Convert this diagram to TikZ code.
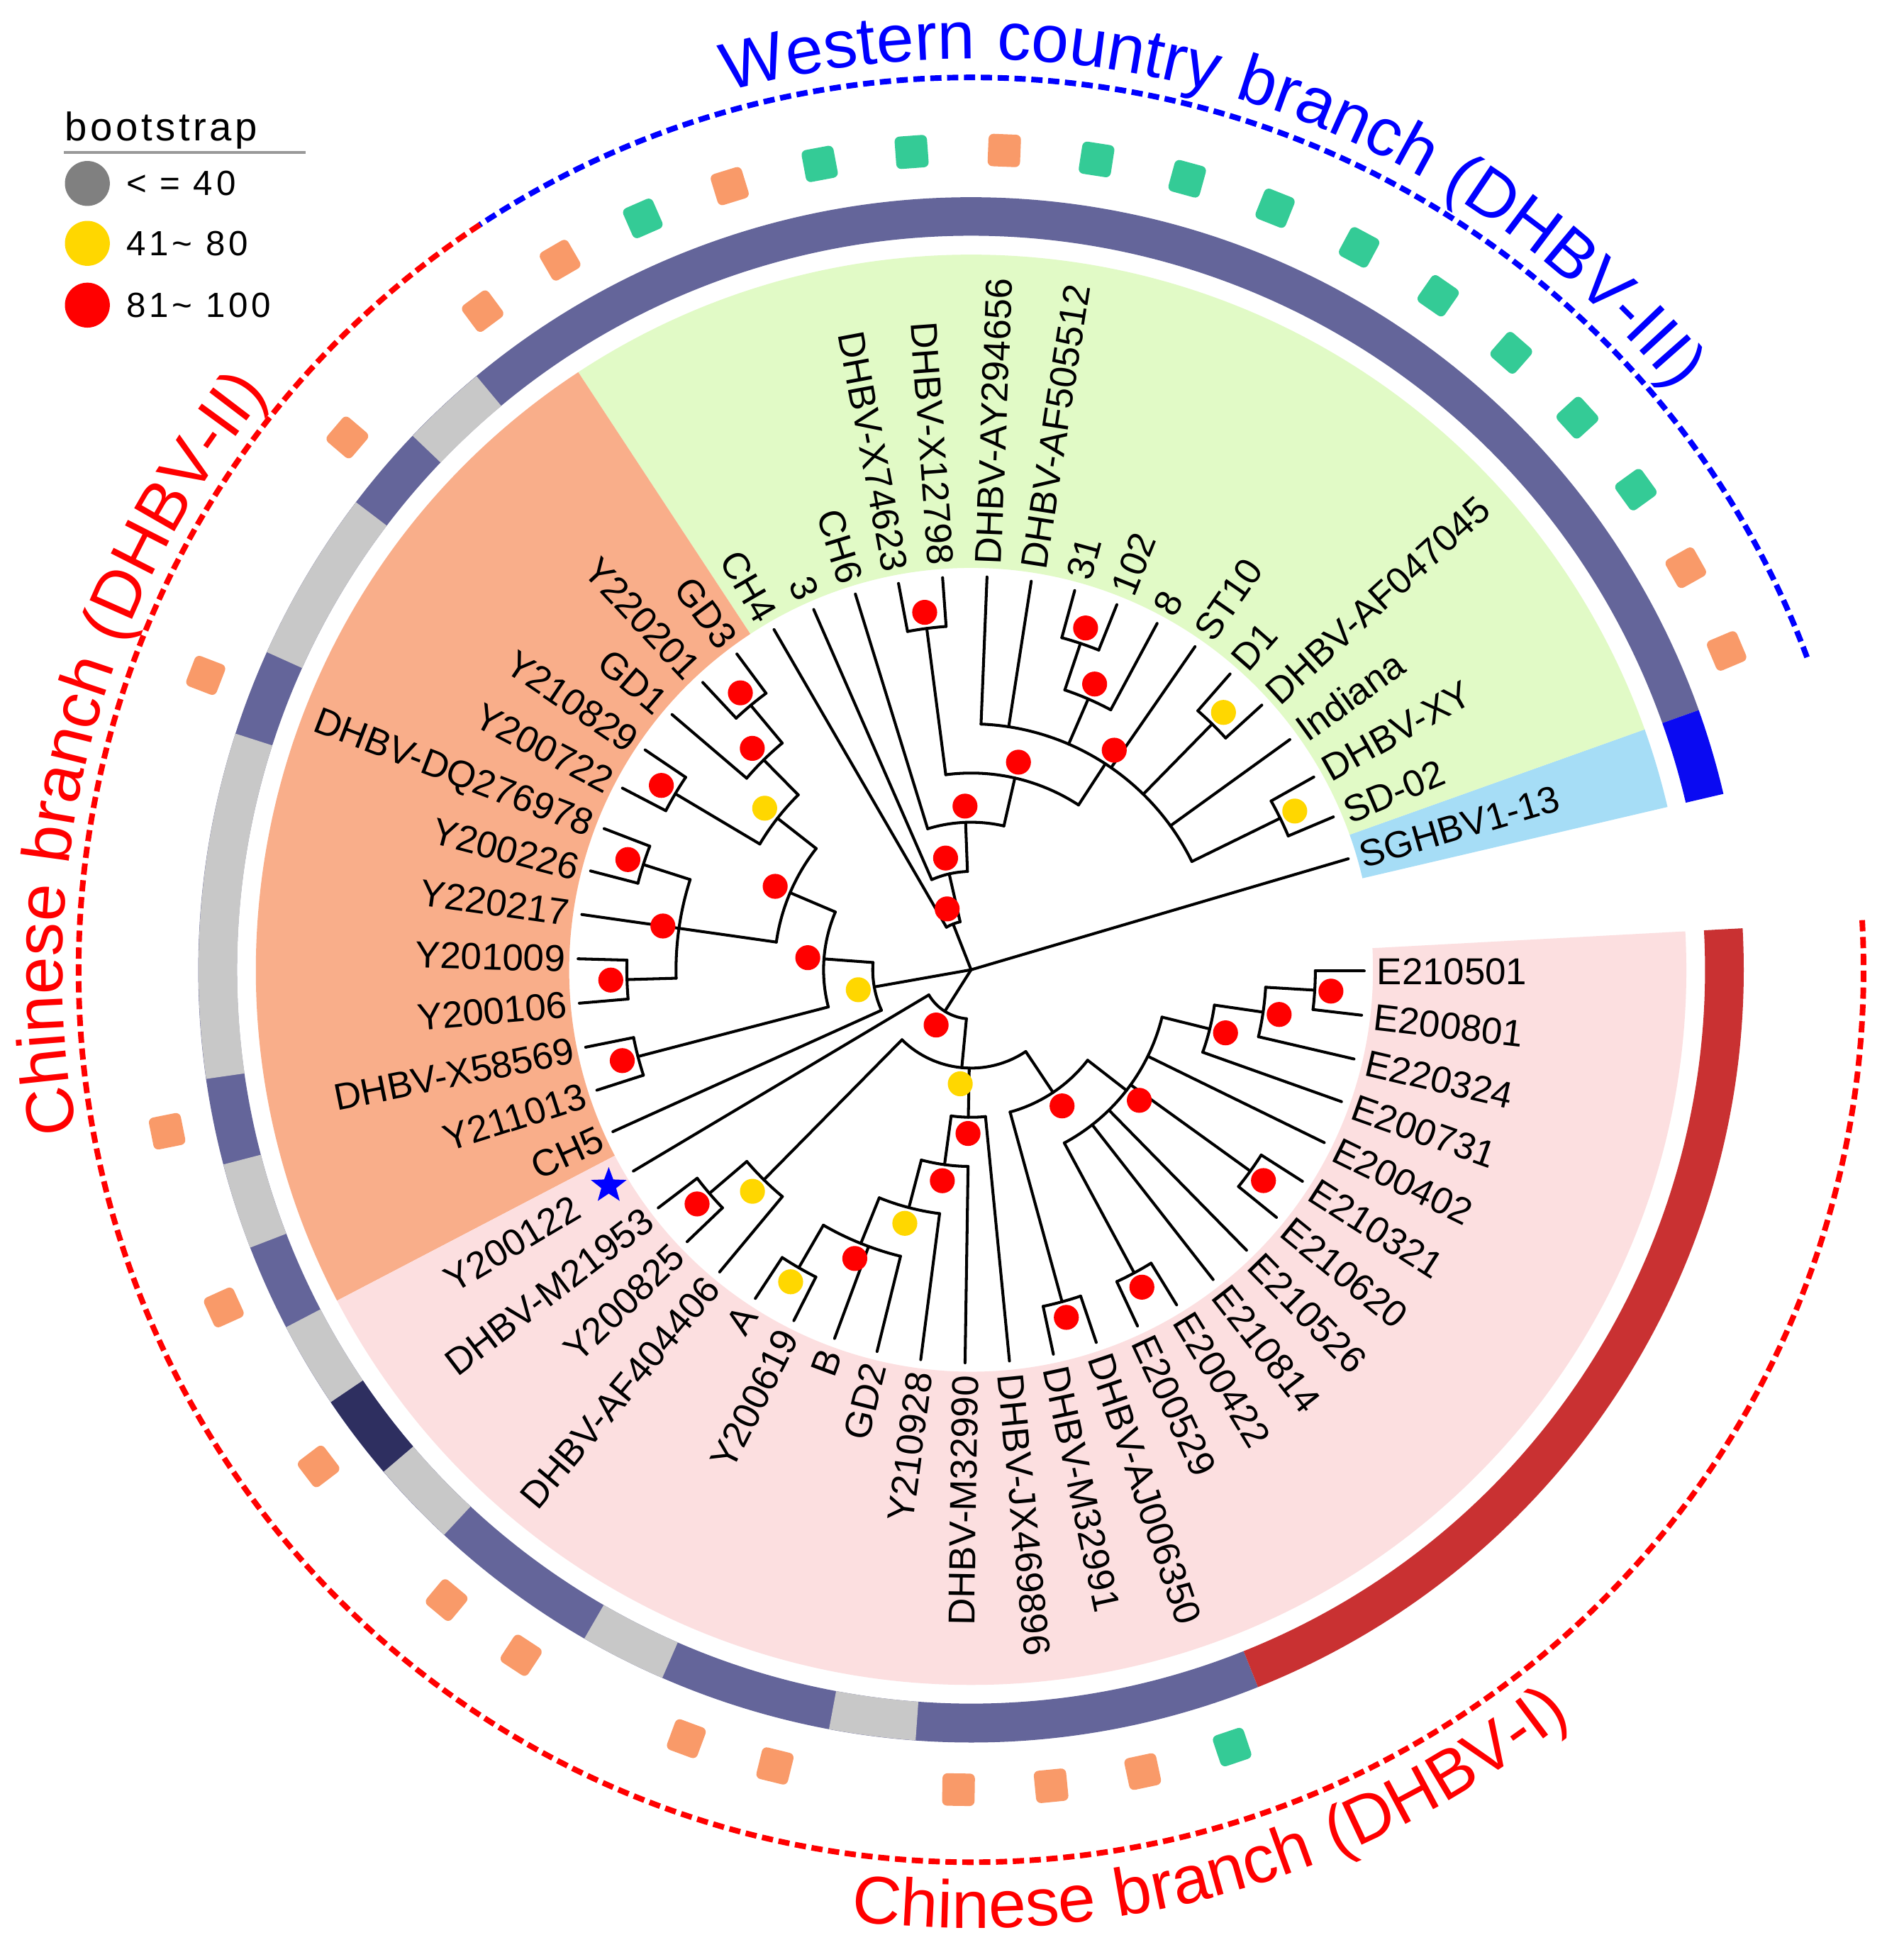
\documentclass[tikz,border=0pt]{standalone}
\usepackage{fontspec}
\setmainfont{Liberation Sans}
\newfontfamily\legtitlefont[LetterSpace=8]{Liberation Sans}
\newfontfamily\legnumfont[LetterSpace=10]{Liberation Sans}
\newfontfamily\cladetitlefont[LetterSpace=3]{Liberation Sans}
\usetikzlibrary{decorations.text,shapes.geometric}
\pgfdeclarelayer{fg}
\pgfsetlayers{main,fg}
\definecolor{fgreen}{HTML}{E1FAC6}
\definecolor{forange}{HTML}{F9AE8A}
\definecolor{fpink}{HTML}{FCDFE0}
\definecolor{fblue}{HTML}{A6DDF6}
\definecolor{rslate}{HTML}{64659A}
\definecolor{rgray}{HTML}{C8C8C8}
\definecolor{rnavy}{HTML}{2E2F60}
\definecolor{rred}{HTML}{C93132}
\definecolor{rblue}{HTML}{0A0AF2}
\definecolor{sqor}{HTML}{F99A69}
\definecolor{sqgr}{HTML}{34CB96}
\definecolor{bsred}{HTML}{FF0000}
\definecolor{bsyel}{HTML}{FFD700}
\definecolor{bsgray}{HTML}{808080}
\definecolor{dashblue}{HTML}{0000FF}
\definecolor{dashred}{HTML}{FF0000}

% annular sector: a1, a2, r1, r2, colour
\newcommand\annsec[5]{\fill[#5] (#1:#3) arc[start angle=#1,end angle=#2,radius=#3] -- (#2:#4) arc[start angle=#2,end angle=#1,radius=#4] -- cycle;}
% leaf: name, index, parent depth, label, label radius
\newcommand\tipleaf[5]{%
  \pgfmathsetmacro\lfang{16.4+6.48*#2}%
  \pgfmathsetmacro\lfpar{#3*39.4}%
  \draw[br] (\lfang:\lfpar) -- (\lfang:315);
  \pgfmathtruncatemacro\lfflip{(\lfang>90)&&(\lfang<270)}%
  \ifnum\lfflip=1
    \node[tiplab,anchor=east,rotate=\lfang+180] (L-#1) at (\lfang:#5) {#4};
  \else
    \node[tiplab,anchor=west,rotate=\lfang] (L-#1) at (\lfang:#5) {#4};
  \fi}
% internal node: name, angle, depth, arc from, arc to, parent depth, dot colour
\newcommand\innode[7]{%
  \pgfmathsetmacro\inR{#3*39.4}%
  \pgfmathsetmacro\inP{#6*39.4}%
  \pgfmathsetmacro\inD{#3*39.4+13}%
  \draw[br] (#2:\inP) -- (#2:\inR);
  \draw[br] (#4:\inR) arc[start angle=#4,end angle=#5,radius=\inR];
  \coordinate (n-#1) at (#2:\inR);
  \begin{pgfonlayer}{fg}\fill[#7] (#2:\inD) circle[radius=10];\end{pgfonlayer}}
% square marker: index, colour
\newcommand\sqmark[2]{%
  \pgfmathsetmacro\sqang{16.4+6.48*#1}%
  \node[sqbox,fill=#2,rotate=\sqang] (S#1) at (\sqang:657) {};}

\begin{document}
\begin{tikzpicture}[x=1pt,y=1pt,
  br/.style={line width=2.3pt,line cap=round,line join=round},
  tiplab/.style={font=\fontsize{30}{36}\selectfont,inner sep=0pt,text height=21.5pt,text depth=0pt},
  sqbox/.style={minimum size=26pt,inner sep=0pt,rounded corners=4pt},
  dashline/.style={line width=4.5pt,dash pattern=on 9pt off 4.5pt}]
\useasboundingbox (-778,-791) rectangle (747,777);
\fill[white] (-778,-791) rectangle (747,777);

% clade backgrounds
\annsec{13.16}{19.64}{322}{573}{fblue}
\annsec{19.64}{123.32}{322}{573}{fgreen}
\annsec{123.32}{207.56}{322}{573}{forange}
\annsec{207.56}{363.08}{322}{573}{fpink}

% outer ring
\annsec{19.64}{291.80}{588}{619}{rslate}
\annsec{13.16}{19.64}{588}{619}{rblue}
\annsec{291.80}{363.08}{588}{619}{rred}
\annsec{129.80}{136.28}{588}{619}{rgray}
\annsec{142.76}{155.72}{588}{619}{rgray}
\annsec{162.20}{188.12}{588}{619}{rgray}
\annsec{194.60}{201.08}{588}{619}{rgray}
\annsec{207.56}{214.04}{588}{619}{rgray}
\annsec{214.04}{220.52}{588}{619}{rnavy}
\annsec{220.52}{227.00}{588}{619}{rgray}
\annsec{239.96}{246.44}{588}{619}{rgray}
\annsec{259.40}{265.88}{588}{619}{rgray}

% square markers
\sqmark{1}{sqor}\sqmark{2}{sqor}\sqmark{3}{sqgr}\sqmark{4}{sqgr}\sqmark{5}{sqgr}
\sqmark{6}{sqgr}\sqmark{7}{sqgr}\sqmark{8}{sqgr}\sqmark{9}{sqgr}\sqmark{10}{sqgr}
\sqmark{11}{sqor}\sqmark{12}{sqgr}\sqmark{13}{sqgr}\sqmark{14}{sqor}\sqmark{15}{sqgr}
\sqmark{16}{sqor}\sqmark{17}{sqor}\sqmark{19}{sqor}\sqmark{22}{sqor}\sqmark{27}{sqor}
\sqmark{29}{sqor}\sqmark{31}{sqor}\sqmark{33}{sqor}\sqmark{34}{sqor}\sqmark{36}{sqor}
\sqmark{37}{sqor}\sqmark{39}{sqor}\sqmark{40}{sqor}\sqmark{41}{sqor}\sqmark{42}{sqgr}

% branch arcs
\draw[dashline,dashblue] (20.5:715) arc[start angle=20.5,end angle=123.4,radius=715];
\draw[dashline,dashred] (123.4:715) arc[start angle=123.4,end angle=363.2,radius=715];

% branch titles
\path[decorate,decoration={text along path,text color=dashblue,
  text={|\cladetitlefont\fontsize{54}{60}\selectfont|Western country branch (DHBV-III)}}]
  (105.5:730) arc[start angle=105.5,end angle=10,radius=730];
\path[decorate,decoration={text along path,text color=dashred,
  text={|\cladetitlefont\fontsize{54}{60}\selectfont|Chinese branch (DHBV-II)}}]
  (190.3:728) arc[start angle=190.3,end angle=115,radius=728];
\path[decorate,decoration={text along path,text color=dashred,
  text={|\cladetitlefont\fontsize{54}{60}\selectfont|Chinese branch (DHBV-I)}}]
  (262.8:768) arc[start angle=262.8,end angle=335,radius=768];

% legend
\node[anchor=base west,inner sep=0pt,font=\legtitlefont\fontsize{32}{38}\selectfont] (lgt) at (-726,664) {bootstrap};
\draw[color=black!40,line width=2.5pt] (-727,655) -- (-533,655);
\node[circle,fill=bsgray,minimum size=36pt,inner sep=0pt] (lg1) at (-708,630) {};
\node[circle,fill=bsyel,minimum size=36pt,inner sep=0pt] (lg2) at (-708,582) {};
\node[circle,fill=bsred,minimum size=36pt,inner sep=0pt] (lg3) at (-708,532.5) {};
\node[anchor=west,inner sep=0pt,font=\legnumfont\fontsize{28}{33}\selectfont] (lt1) at (-677,630) {< = 40};
\node[anchor=west,inner sep=0pt,font=\legnumfont\fontsize{28}{33}\selectfont] (lt2) at (-677,582) {41\textasciitilde\ 80};
\node[anchor=west,inner sep=0pt,font=\legnumfont\fontsize{28}{33}\selectfont] (lt3) at (-677,532.5) {81\textasciitilde\ 100};

% internal nodes of the tree
\innode{NXY}{26.12}{7}{22.88}{29.36}{5}{bsyel}
\innode{ND1}{45.56}{7}{42.32}{48.80}{5}{bsyel}
\innode{N31}{71.48}{7}{68.24}{74.72}{6}{bsred}
\innode{P}{66.62}{6}{61.76}{71.48}{5}{bsred}
\innode{A}{56.90}{5}{26.12}{87.68}{4}{bsred}
\innode{NX}{97.40}{7}{94.16}{100.64}{4}{bsred}
\innode{G4}{77.15}{4}{56.90}{97.40}{3}{bsred}
\innode{G3}{92.135}{3}{77.15}{107.12}{2}{bsred}
\innode{G2}{102.87}{2}{92.135}{113.60}{1}{bsred}
\innode{G1}{111.47}{1}{102.87}{120.08}{0}{bsred}
\innode{O6}{129.80}{7}{126.56}{133.04}{6}{bsred}
\innode{O5}{134.66}{6}{129.80}{139.52}{5}{bsred}
\innode{O7}{149.24}{7}{146.00}{152.48}{5}{bsred}
\innode{O4}{141.95}{5}{134.66}{149.24}{4}{bsyel}
\innode{O9}{162.20}{7}{158.96}{165.44}{6}{bsred}
\innode{O10}{181.64}{7}{178.40}{184.88}{6}{bsred}
\innode{O8}{171.92}{6}{162.20}{181.64}{4}{bsred}
\innode{O3}{156.935}{4}{141.95}{171.92}{3}{bsred}
\innode{O11}{194.60}{7}{191.36}{197.84}{3}{bsred}
\innode{O2}{175.77}{3}{156.935}{194.60}{2}{bsred}
\innode{O}{190.045}{2}{175.77}{204.32}{0}{bsyel}
\innode{M1}{220.52}{7}{217.28}{223.76}{6}{bsred}
\innode{M}{225.38}{6}{220.52}{230.24}{2}{bsyel}
\innode{K11}{239.96}{7}{236.72}{243.20}{6}{bsyel}
\innode{K7}{248.06}{6}{239.96}{256.16}{5}{bsred}
\innode{K6}{255.35}{5}{248.06}{262.64}{4}{bsyel}
\innode{K5}{262.235}{4}{255.35}{269.12}{3}{bsred}
\innode{K3}{268.92}{3}{262.235}{275.60}{2}{bsred}
\innode{K12}{285.32}{7}{282.08}{288.56}{3}{bsred}
\innode{K13}{298.28}{7}{295.04}{301.52}{4}{bsred}
\innode{K14}{324.20}{7}{320.96}{327.44}{4}{bsred}
\innode{K15}{356.60}{7}{353.36}{359.84}{6}{bsred}
\innode{K10}{351.74}{6}{346.88}{356.60}{5}{bsred}
\innode{K9}{346.07}{5}{340.40}{351.74}{4}{bsred}
\innode{K8}{322.175}{4}{298.28}{346.07}{3}{bsred}
\innode{K4}{303.75}{3}{285.32}{322.175}{2}{bsred}
\innode{K2}{264.565}{2}{225.38}{303.75}{1}{bsyel}
\innode{K}{237.68}{1}{210.80}{264.565}{0}{bsred}

% leaves
\tipleaf{SGHBV}{0}{0}{SGHBV1-13}{325}
\tipleaf{SD02}{1}{7}{SD-02}{325}
\tipleaf{XY}{2}{7}{DHBV-XY}{325}
\tipleaf{Indiana}{3}{5}{Indiana}{325}
\tipleaf{AF047045}{4}{7}{DHBV-AF047045}{325}
\tipleaf{D1}{5}{7}{D1}{325}
\tipleaf{ST10}{6}{5}{ST10}{325}
\tipleaf{s8}{7}{6}{8}{325}
\tipleaf{s102}{8}{7}{102}{325}
\tipleaf{s31}{9}{7}{31}{325}
\tipleaf{AF505512}{10}{5}{DHBV-AF505512}{325}
\tipleaf{AY294656}{11}{5}{DHBV-AY294656}{325}
\tipleaf{X12798}{12}{7}{DHBV-X12798}{325}
\tipleaf{X74623}{13}{7}{DHBV-X74623}{325}
\tipleaf{CH6}{14}{3}{CH6}{325}
\tipleaf{s3}{15}{2}{3}{325}
\tipleaf{CH4}{16}{1}{CH4}{325}
\tipleaf{GD3}{17}{7}{GD3}{325}
\tipleaf{Y220201}{18}{7}{Y220201}{325}
\tipleaf{GD1}{19}{6}{GD1}{325}
\tipleaf{Y210829}{20}{7}{Y210829}{325}
\tipleaf{Y200722}{21}{7}{Y200722}{325}
\tipleaf{DQ276978}{22}{7}{DHBV-DQ276978}{325}
\tipleaf{Y200226}{23}{7}{Y200226}{325}
\tipleaf{Y220217}{24}{6}{Y220217}{325}
\tipleaf{Y201009}{25}{7}{Y201009}{325}
\tipleaf{Y200106}{26}{7}{Y200106}{325}
\tipleaf{X58569}{27}{7}{DHBV-X58569}{325}
\tipleaf{Y211013}{28}{7}{Y211013}{325}
\tipleaf{CH5}{29}{2}{CH5}{325}
\tipleaf{Y200122}{30}{1}{Y200122}{368}
\tipleaf{M21953}{31}{7}{DHBV-M21953}{325}
\tipleaf{Y200825}{32}{7}{Y200825}{325}
\tipleaf{AF404406}{33}{6}{DHBV-AF404406}{325}
\tipleaf{lA}{34}{7}{A}{325}
\tipleaf{Y200619}{35}{7}{Y200619}{325}
\tipleaf{lB}{36}{6}{B}{325}
\tipleaf{GD2}{37}{6}{GD2}{325}
\tipleaf{Y210928}{38}{5}{Y210928}{325}
\tipleaf{M32990}{39}{4}{DHBV-M32990}{325}
\tipleaf{JX469896}{40}{3}{DHBV-JX469896}{325}
\tipleaf{M32991}{41}{7}{DHBV-M32991}{325}
\tipleaf{AJ006350}{42}{7}{DHBV-AJ006350}{325}
\tipleaf{E200529}{43}{7}{E200529}{325}
\tipleaf{E200422}{44}{7}{E200422}{325}
\tipleaf{E210814}{45}{4}{E210814}{325}
\tipleaf{E210526}{46}{4}{E210526}{325}
\tipleaf{E210620}{47}{7}{E210620}{325}
\tipleaf{E210321}{48}{7}{E210321}{325}
\tipleaf{E200402}{49}{4}{E200402}{325}
\tipleaf{E200731}{50}{5}{E200731}{325}
\tipleaf{E220324}{51}{6}{E220324}{325}
\tipleaf{E200801}{52}{7}{E200801}{325}
\tipleaf{E210501}{53}{7}{E210501}{325}

% marker star
\node[star,star points=5,star point ratio=2.4,fill=blue,minimum size=30pt,inner sep=0pt] (mark) at (210.8:338) {};
\end{tikzpicture}
\end{document}
